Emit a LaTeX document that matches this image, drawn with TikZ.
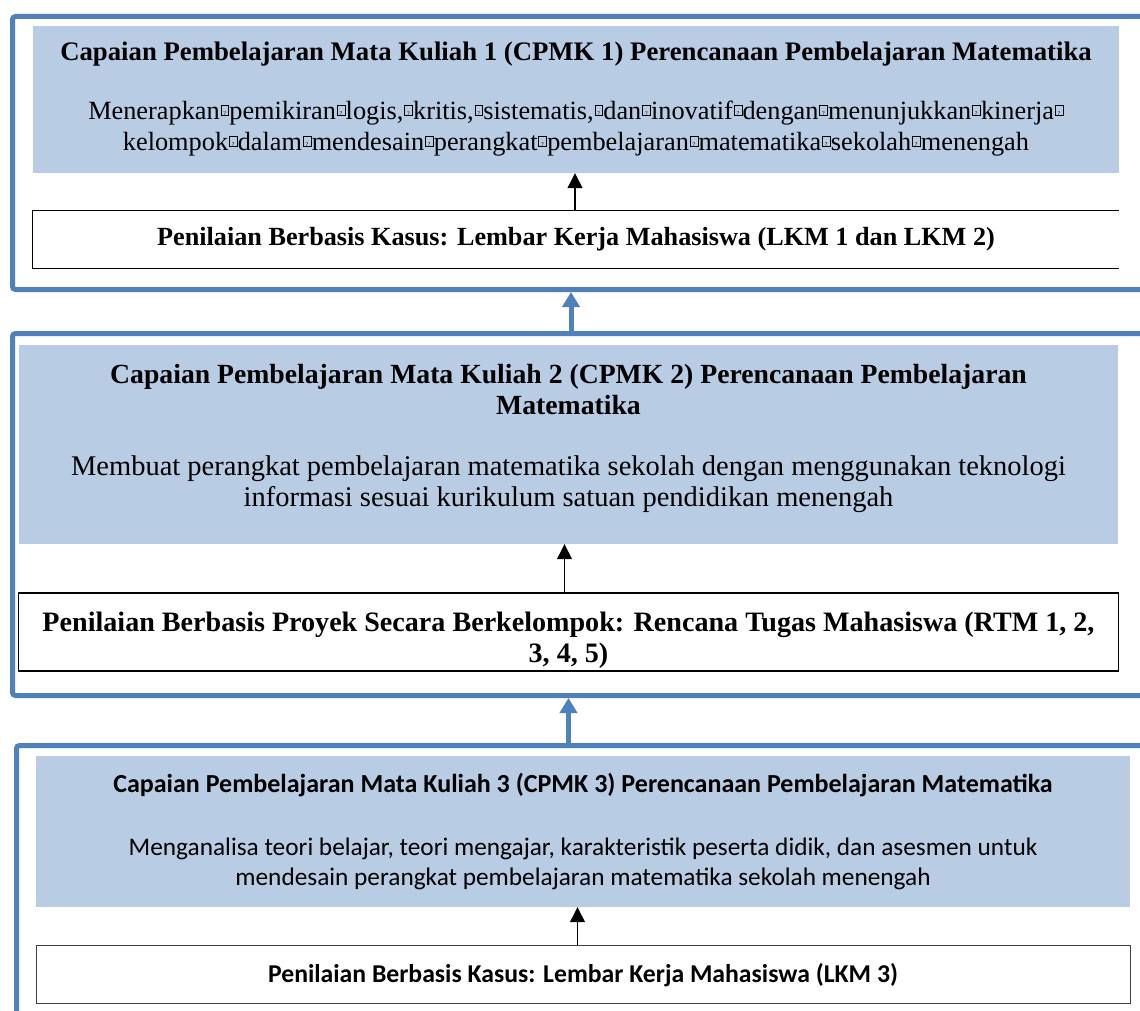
\documentclass[tikz,border=0pt]{standalone}
\usepackage{fontspec}
\setmainfont{Liberation Serif}
\newfontfamily\calfont{Carlito}
\usetikzlibrary{arrows.meta,positioning}
\definecolor{frameblue}{RGB}{79,129,189}
\definecolor{cpblue}{RGB}{184,204,228}
% box left by a missing glyph
\newcommand{\nog}{\kern0.03em\raisebox{0.18em}{\setlength{\fboxsep}{0pt}\setlength{\fboxrule}{0.5pt}\fbox{\makebox[0.28em]{\rule{0pt}{0.36em}\fontsize{6}{6}\selectfont ?}}}\kern0.02em}

\begin{document}
\begin{tikzpicture}[
    x=1pt, y=-1pt,
    panel/.style={draw=frameblue, line width=5pt, rounded corners=3pt, anchor=north west, minimum width=1160pt, inner sep=0pt},
    cpbox/.style={fill=cpblue, align=center, inner sep=0pt},
    evbox/.style={fill=white, align=center, inner sep=0pt},
    up/.style={-{Triangle[length=15pt,width=15pt]}, line width=1.3pt},
    link/.style={draw=frameblue, -{Triangle[length=15pt,width=17pt]}, line width=5pt}
]
\useasboundingbox (0,0) rectangle (1140,1011);
\clip (0,0) rectangle (1140,1011);

% panels
\node[panel, minimum height=273pt] (pnl1) at (10,14) {};
\node[panel, minimum height=362pt] (pnl2) at (10,331) {};
\node[panel, minimum height=300pt] (pnl3) at (14,743) {};

% CPMK 1
\node[cpbox, font=\fontsize{26.3}{31}\selectfont, minimum width=1086pt, minimum height=147pt] (cp1) at (576,99.5) {%
  \textbf{\fontsize{26.75}{31}\selectfont Capaian Pembelajaran Mata Kuliah 1 (CPMK 1) Perencanaan Pembelajaran Matematika}\\[28pt]
  Menerapkan\nog pemikiran\nog logis,\nog kritis,\nog sistematis,\nog dan\nog inovatif\nog dengan\nog menunjukkan\nog kinerja\nog\\
  kelompok\nog dalam\nog mendesain\nog perangkat\nog pembelajaran\nog matematika\nog sekolah\nog menengah};
\node[evbox, font=\fontsize{26.2}{31}\selectfont\bfseries, minimum width=1086pt, minimum height=58pt, below=37pt of cp1] (ev1)
  {Penilaian Berbasis Kasus: Lembar Kerja Mahasiswa (LKM 1 dan LKM 2)};
\draw[line width=1.2pt] (ev1.north east) -- (ev1.north west) -- (ev1.south west) -- (ev1.south east);
\draw[up] ([xshift=-1pt]ev1.north) -- ([xshift=-1pt]cp1.south);

% CPMK 2
\node[cpbox, font=\fontsize{28.5}{31}\selectfont, minimum width=1099pt, minimum height=199pt] (cp2) at (568.5,444.5) {%
  \textbf{\fontsize{27.7}{31}\selectfont Capaian Pembelajaran Mata Kuliah 2 (CPMK 2) Perencanaan Pembelajaran}\\
  \textbf{\fontsize{27.7}{31}\selectfont Matematika}\\[30pt]
  Membuat perangkat pembelajaran matematika sekolah dengan menggunakan teknologi\\
  informasi sesuai kurikulum satuan pendidikan menengah\rule[-18pt]{0pt}{0pt}};
\node[evbox, draw, line width=1.3pt, font=\fontsize{28.1}{31}\selectfont\bfseries, minimum width=1100pt, minimum height=78pt, below=48pt of cp2] (ev2)
  {\rule{0pt}{36pt}Penilaian Berbasis Proyek Secara Berkelompok: Rencana Tugas Mahasiswa (RTM 1, 2,\\ 3, 4, 5)};
\draw[up] ([xshift=-4pt]ev2.north) -- ([xshift=-4pt]cp2.south);

% CPMK 3
\node[cpbox, font=\calfont\fontsize{25.3}{30}\selectfont, minimum width=1094pt, minimum height=151pt] (cp3) at (583,831.5) {%
  \textbf{\fontsize{26}{30}\selectfont Capaian Pembelajaran Mata Kuliah 3 (CPMK 3) Perencanaan Pembelajaran Matematika}\\[33pt]
  Menganalisa teori belajar, teori mengajar, karakteristik peserta didik, dan asesmen untuk\\
  mendesain perangkat pembelajaran matematika sekolah menengah};
\node[evbox, draw=black!75, line width=1pt, font=\calfont\fontsize{25.7}{30}\selectfont\bfseries, minimum width=1094pt, minimum height=58pt, below=38pt of cp3] (ev3)
  {Penilaian Berbasis Kasus: Lembar Kerja Mahasiswa (LKM 3)};
\draw[up] ([xshift=-5.5pt]ev3.north) -- ([xshift=-5.5pt]cp3.south);

% links between panels
\draw[link] ([xshift=-5pt]cp1.south |- pnl2.north) -- ([xshift=-5pt]cp1.south |- pnl1.south);
\draw[link] (cp2.south |- pnl3.north) -- (cp2.south |- pnl2.south);
\end{tikzpicture}
\end{document}
